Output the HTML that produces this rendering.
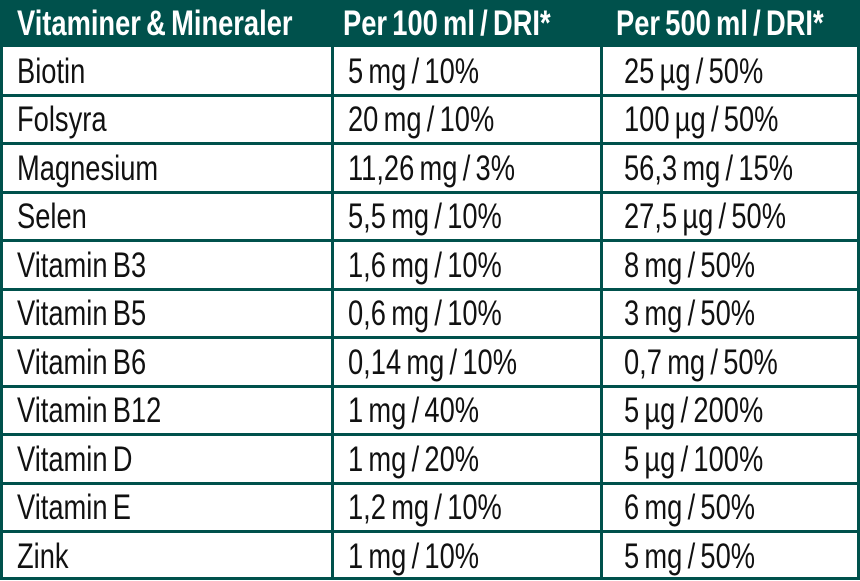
<!DOCTYPE html>
<html><head><meta charset="utf-8"><style>
html,body{margin:0;padding:0;width:860px;height:580px;overflow:hidden;background:#fff}
.wrap{position:absolute;left:0;top:0;width:860px;height:580px}
.hdr{position:absolute;left:0;top:0;width:860px;height:47px;background:#00514c}
.hl{position:absolute;left:0;width:860px;height:3px;background:#00514c}
.vl{position:absolute;top:0;width:3px;height:580px;background:#00514c}
.t{position:absolute;font-family:"Liberation Sans",sans-serif;font-size:35px;line-height:48px;white-space:nowrap;transform:scaleX(0.78);transform-origin:0 50%;color:#111;word-spacing:-3px}
.h{color:#fff;font-weight:bold;top:0}
</style></head><body><div class="wrap">
<div class="hdr"></div>
<div class="vl" style="left:0"></div>
<div class="vl" style="left:331px"></div>
<div class="vl" style="left:600px"></div>
<div class="vl" style="left:857px"></div>
<div class="hl" style="top:577px"></div>
<div class="t h" style="left:17px">Vitaminer &amp; Mineraler</div>
<div class="t h" style="left:343px">Per 100 ml / DRI*</div>
<div class="t h" style="left:616px">Per 500 ml / DRI*</div>
<div id="rows"></div>
</div>
<script>
var d=[["Biotin","5 mg / 10%","25 µg / 50%"],["Folsyra","20 mg / 10%","100 µg / 50%"],["Magnesium","11,26 mg / 3%","56,3 mg / 15%"],["Selen","5,5 mg / 10%","27,5 µg / 50%"],["Vitamin B3","1,6 mg / 10%","8 mg / 50%"],["Vitamin B5","0,6 mg / 10%","3 mg / 50%"],["Vitamin B6","0,14 mg / 10%","0,7 mg / 50%"],["Vitamin B12","1 mg / 40%","5 µg / 200%"],["Vitamin D","1 mg / 20%","5 µg / 100%"],["Vitamin E","1,2 mg / 10%","6 mg / 50%"],["Zink","1 mg / 10%","5 mg / 50%"]];
var h="";for(var i=0;i<d.length;i++){var y=47+i*48.45;
if(i>0)h+='<div class="hl" style="top:'+(y-1.5)+'px"></div>';
var ty=y+1;
h+='<div class="t" style="top:'+ty+'px;left:17px">'+d[i][0]+'</div>';
h+='<div class="t" style="top:'+ty+'px;left:348px">'+d[i][1]+'</div>';
h+='<div class="t" style="top:'+ty+'px;left:624px">'+d[i][2]+'</div>';}
document.getElementById("rows").innerHTML=h;
</script>
</body></html>
